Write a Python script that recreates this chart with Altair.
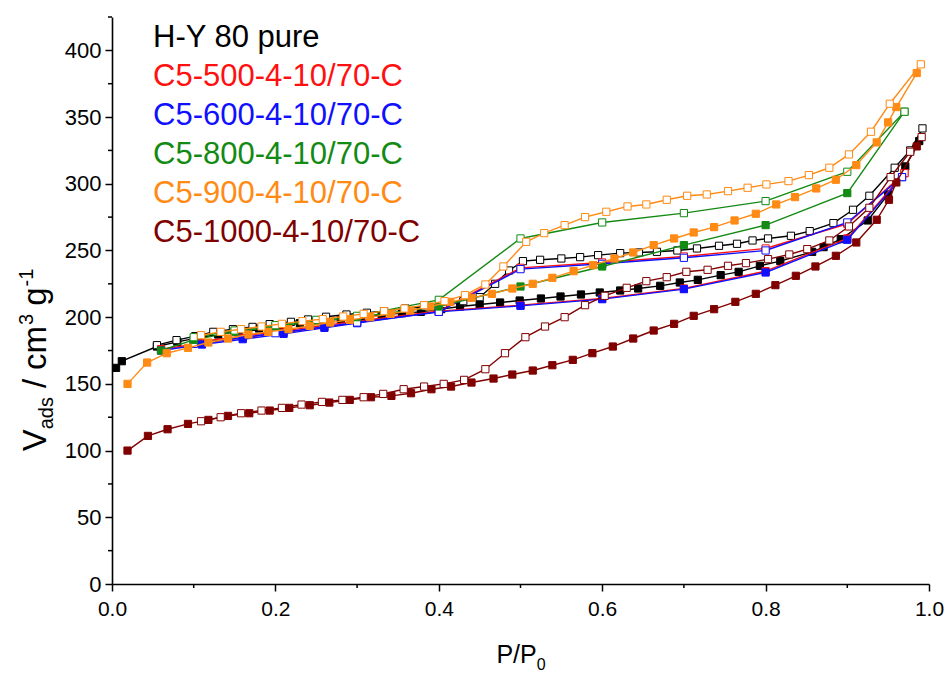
import altair as alt
import pandas as pd

# ---------------- data ----------------
names = ["H-Y 80 pure", "C5-500-4-10/70-C", "C5-600-4-10/70-C",
         "C5-800-4-10/70-C", "C5-900-4-10/70-C", "C5-1000-4-10/70-C"]
colors = ["#000000", "#ff1010", "#1010ff", "#138a13", "#ff8a14", "#800000"]

hy_ads_p = [0.005, 0.012, 0.055, 0.08, 0.105, 0.13, 0.155, 0.18, 0.205, 0.23, 0.255, 0.28, 0.305, 0.33,
            0.355, 0.378, 0.403, 0.426, 0.45, 0.475, 0.499, 0.525, 0.549, 0.574, 0.597, 0.622, 0.644,
            0.671, 0.695, 0.717, 0.745, 0.767, 0.793, 0.818, 0.857, 0.871, 0.892, 0.925, 0.95, 0.971, 0.988]
hy_ads_v = [162, 167, 178, 181.5, 184.5, 187, 189.5, 191.5, 193.5, 195.5, 197, 198.5, 200, 201.5,
            203, 204, 206, 208, 209.5, 211, 212.5, 214, 215.5, 217, 218.5, 220, 221.5,
            223.5, 226, 228, 231.5, 234, 238.5, 242, 249, 252.5, 258.5, 272.5, 292, 313, 332]
hy_des_p = [0.992, 0.977, 0.958, 0.927, 0.907, 0.883, 0.854, 0.831, 0.803, 0.784, 0.765, 0.743, 0.716,
            0.692, 0.667, 0.645, 0.622, 0.595, 0.573, 0.55, 0.524, 0.503, 0.486, 0.469, 0.45, 0.43,
            0.405, 0.383, 0.359, 0.333, 0.312, 0.287, 0.262, 0.24, 0.219, 0.193, 0.172, 0.148, 0.124,
            0.102, 0.079, 0.055]
hy_des_v = [341.5, 325, 312, 291, 280.5, 270.5, 264.5, 261, 259, 257.5, 255, 253.5, 251.5,
            250, 249, 248.5, 248, 246.5, 245, 244, 243, 242, 235, 225, 215, 212,
            210, 208, 206.5, 204.5, 203.3, 202, 200.3, 198.3, 196.5, 194.8, 192.7, 191, 189,
            185.8, 182.8, 179]

c500_ads_p = [0.06, 0.11, 0.16, 0.21, 0.26, 0.3, 0.4, 0.5, 0.6, 0.7, 0.8, 0.9, 0.97]
c500_ads_v = [176, 180.5, 184.5, 188.5, 192.5, 196, 204.5, 209, 214, 221.5, 234.5, 259, 308]
c500_des_p = [0.97, 0.9, 0.8, 0.7, 0.6, 0.5, 0.4, 0.3, 0.2, 0.1]
c500_des_v = [308, 270, 251.5, 245.5, 241, 237, 204.5, 197, 189, 181]

c600_ads_p = [0.06, 0.11, 0.16, 0.21, 0.26, 0.3, 0.4, 0.5, 0.6, 0.7, 0.8, 0.9, 0.967]
c600_ads_v = [175, 179.5, 183.5, 187.5, 192, 195.5, 204, 208.5, 213.5, 221, 233.5, 258, 305]
c600_des_p = [0.967, 0.9, 0.8, 0.7, 0.6, 0.5, 0.4, 0.3, 0.2, 0.1]
c600_des_v = [305, 271, 250, 244.5, 240, 236, 204, 196, 188, 180]

c800_ads_p = [0.06, 0.1, 0.15, 0.2, 0.25, 0.3, 0.4, 0.5, 0.6, 0.7, 0.8, 0.9, 0.97]
c800_ads_v = [175, 183, 189, 193, 197, 200, 208, 223, 238, 254, 269, 293, 354]
c800_des_p = [0.97, 0.9, 0.8, 0.7, 0.6, 0.5, 0.4, 0.3, 0.25, 0.2, 0.15, 0.1]
c800_des_v = [354, 309, 287, 278, 271, 259, 213, 201, 198, 194, 190, 185]

c900_ads_p = [0.019, 0.043, 0.067, 0.093, 0.118, 0.142, 0.167, 0.191, 0.216, 0.242, 0.267, 0.291, 0.316,
              0.341, 0.365, 0.389, 0.414, 0.44, 0.465, 0.49, 0.515, 0.539, 0.565, 0.589, 0.615, 0.638,
              0.663, 0.688, 0.712, 0.737, 0.762, 0.788, 0.813, 0.836, 0.862, 0.886, 0.911, 0.936, 0.95,
              0.96, 0.985]
c900_ads_v = [150, 166, 173, 177, 181, 184, 187, 189, 191, 193.5, 196, 198, 200,
              202.5, 205, 208, 211.5, 214.5, 217.5, 221.5, 225, 229.5, 234.5, 239, 244, 248.5,
              254, 259, 263.5, 267.5, 272.5, 277.5, 284.5, 290, 296.5, 303, 314, 331, 346,
              357.5, 383]
c900_des_p = [0.99, 0.952, 0.929, 0.902, 0.878, 0.853, 0.828, 0.801, 0.778, 0.754, 0.728, 0.704, 0.679,
              0.654, 0.631, 0.605, 0.579, 0.554, 0.529, 0.507, 0.479, 0.457, 0.432, 0.407, 0.382,
              0.358, 0.333, 0.308, 0.283, 0.258, 0.233, 0.208, 0.183, 0.158, 0.133, 0.109]
c900_des_v = [389.5, 360, 339, 322, 312, 306.5, 302, 299.5, 297, 294.5, 292, 291, 288,
              284.5, 283, 279, 275, 269, 263, 256.5, 238, 224.5, 216.5, 212, 209,
              206.5, 204.5, 202.5, 200.5, 198.5, 197, 195, 193, 191, 189, 186.5]

c1000_ads_p = [0.019, 0.044, 0.068, 0.093, 0.118, 0.142, 0.168, 0.193, 0.217, 0.242, 0.266, 0.291, 0.317,
               0.342, 0.366, 0.391, 0.415, 0.44, 0.467, 0.49, 0.515, 0.539, 0.564, 0.588, 0.613, 0.638,
               0.663, 0.688, 0.712, 0.737, 0.763, 0.788, 0.812, 0.837, 0.861, 0.886, 0.911, 0.936, 0.951,
               0.96, 0.985]
c1000_ads_v = [100, 111, 116, 120, 123, 126, 128, 130, 132, 134, 136, 138, 140,
               141, 143, 146, 148, 151, 154, 157, 160, 164, 168, 173, 178, 184,
               190, 195, 201, 206, 211.5, 217.5, 224, 231, 238, 246, 256, 273, 288,
               301, 328]
c1000_des_p = [0.991, 0.977, 0.953, 0.927, 0.902, 0.878, 0.851, 0.829, 0.803, 0.776, 0.754, 0.729, 0.703,
               0.679, 0.654, 0.63, 0.603, 0.579, 0.554, 0.53, 0.506, 0.481, 0.457, 0.431, 0.406, 0.382,
               0.357, 0.332, 0.308, 0.282, 0.257, 0.232, 0.208, 0.183, 0.158, 0.133, 0.109]
c1000_des_v = [335, 324, 305, 282, 268, 257.5, 251, 247, 243.5, 240.5, 238.5, 235.5, 234,
               230, 227, 222, 216, 209, 200, 193, 185, 173, 161, 153, 150, 148,
               146, 142.5, 140, 138, 136.5, 134.5, 132, 130, 128, 125, 122]

x_major = [0.0, 0.2, 0.4, 0.6, 0.8, 1.0]
x_minor = [0.1, 0.3, 0.5, 0.7, 0.9]
y_major = [0, 50, 100, 150, 200, 250, 300, 350, 400]
y_minor = [25, 75, 125, 175, 225, 275, 325, 375, 425]

series = [
    (hy_ads_p, hy_ads_v, hy_des_p, hy_des_v),
    (c500_ads_p, c500_ads_v, c500_des_p, c500_des_v),
    (c600_ads_p, c600_ads_v, c600_des_p, c600_des_v),
    (c800_ads_p, c800_ads_v, c800_des_p, c800_des_v),
    (c900_ads_p, c900_ads_v, c900_des_p, c900_des_v),
    (c1000_ads_p, c1000_ads_v, c1000_des_p, c1000_des_v),
]

# ---------------- layout ----------------
W, H = 817, 567
FONT = "Liberation Sans"
x_scale = alt.Scale(domain=[0, 1], nice=False, zero=False)
y_scale = alt.Scale(domain=[0, 425], nice=False)

x_axis = alt.Axis(values=x_major, format=".1f", title=None, grid=False, tickSize=7, tickWidth=1.5,
                  tickColor="black", domainColor="black", domainWidth=1.6, labelFont=FONT,
                  labelFontSize=21, labelColor="black", labelPadding=7, labelFlush=False)
y_axis = alt.Axis(values=y_major, format="d", title=None, grid=False, tickSize=7, tickWidth=1.5,
                  tickColor="black", domainColor="black", domainWidth=1.6, labelFont=FONT,
                  labelFontSize=22, labelColor="black", labelPadding=4, labelFlush=False)

X = alt.X("p:Q", scale=x_scale, axis=x_axis)
Y = alt.Y("v:Q", scale=y_scale, axis=y_axis)

layers = []
for (ap, av, dp, dv), color in zip(series, colors):
    ads = pd.DataFrame({"p": ap, "v": av, "i": list(range(len(ap)))})
    des = pd.DataFrame({"p": dp, "v": dv, "i": list(range(len(dp)))})
    for df in (ads, des):
        layers.append(alt.Chart(df).mark_line(color=color, strokeWidth=1.4).encode(
            x=X, y=Y, order="i:Q"))
    layers.append(alt.Chart(ads).mark_point(shape="square", size=52, filled=True, fill=color,
                                             stroke=color, strokeWidth=1, opacity=1).encode(x=X, y=Y))
    layers.append(alt.Chart(des).mark_point(shape="square", size=52, filled=False, fill="white",
                                             fillOpacity=1, stroke=color, strokeWidth=1,
                                             opacity=1).encode(x=X, y=Y))

# minor ticks
layers.append(alt.Chart(pd.DataFrame({"t": x_minor})).mark_rule(color="black", strokeWidth=1.5).encode(
    x=alt.X("t:Q", scale=x_scale, axis=x_axis), y=alt.value(H), y2=alt.value(H + 4)))
layers.append(alt.Chart(pd.DataFrame({"t": y_minor})).mark_rule(color="black", strokeWidth=1.5).encode(
    y=alt.Y("t:Q", scale=y_scale, axis=y_axis), x=alt.value(-4), x2=alt.value(0)))

# legend text
for k, (nm, color) in enumerate(zip(names, colors)):
    layers.append(alt.Chart(pd.DataFrame({"label": [nm]})).mark_text(
        align="left", baseline="middle", font=FONT, fontSize=31, color=color).encode(
        text="label:N", x=alt.value(41), y=alt.value(21 + 39 * k)))

# axis titles with sub/superscripts
aw = {"V": 0.667, "a": 0.556, "d": 0.556, "s": 0.5, "/": 0.278, "c": 0.5, "m": 0.833,
      "3": 0.556, "g": 0.556, "-": 0.333, "1": 0.556, "P": 0.667, "0": 0.556}


def tw(s, fs):
    return sum(aw.get(ch, 0.556) for ch in s) * fs


# y title (rotated), pieces: (text, size, baseline shift, gap after)
ypieces = [("V", 33, 0, 0), ("ads", 20, 7, 9), ("/", 33, 0, 9), ("cm", 33, 0, 1), ("3", 20, -13, 8),
           ("g", 33, 0, 1), ("-1", 20, -13, 0)]
total = sum(tw(t, f) + g for t, f, _, g in ypieces)
ypos = 360 - 17 + total / 2
ybase = 46 - 112
for t, f, sh, g in ypieces:
    layers.append(alt.Chart(pd.DataFrame({"label": [t]})).mark_text(
        align="left", baseline="alphabetic", angle=270, font=FONT, fontSize=f, color="black").encode(
        text="label:N", x=alt.value(ybase + sh), y=alt.value(ypos)))
    ypos -= tw(t, f) + g

# x title
xpieces = [("P/P", 25, 0), ("0", 16, 7)]
total = sum(tw(t, f) for t, f, _ in xpieces)
xpos = 521 - 112 - total / 2
for t, f, sh in xpieces:
    layers.append(alt.Chart(pd.DataFrame({"label": [t]})).mark_text(
        align="left", baseline="alphabetic", font=FONT, fontSize=f, color="black").encode(
        text="label:N", x=alt.value(xpos), y=alt.value(663 - 17 + sh)))
    xpos += tw(t, f)

chart = alt.layer(*layers).properties(
    width=W, height=H,
    autosize=alt.AutoSizeParams(type="none"),
    padding={"left": 112, "top": 17, "right": 20, "bottom": 89},
    background="white",
).configure_view(stroke=None)

chart.save("out.html", embed_options={"renderer": "svg", "actions": False})
